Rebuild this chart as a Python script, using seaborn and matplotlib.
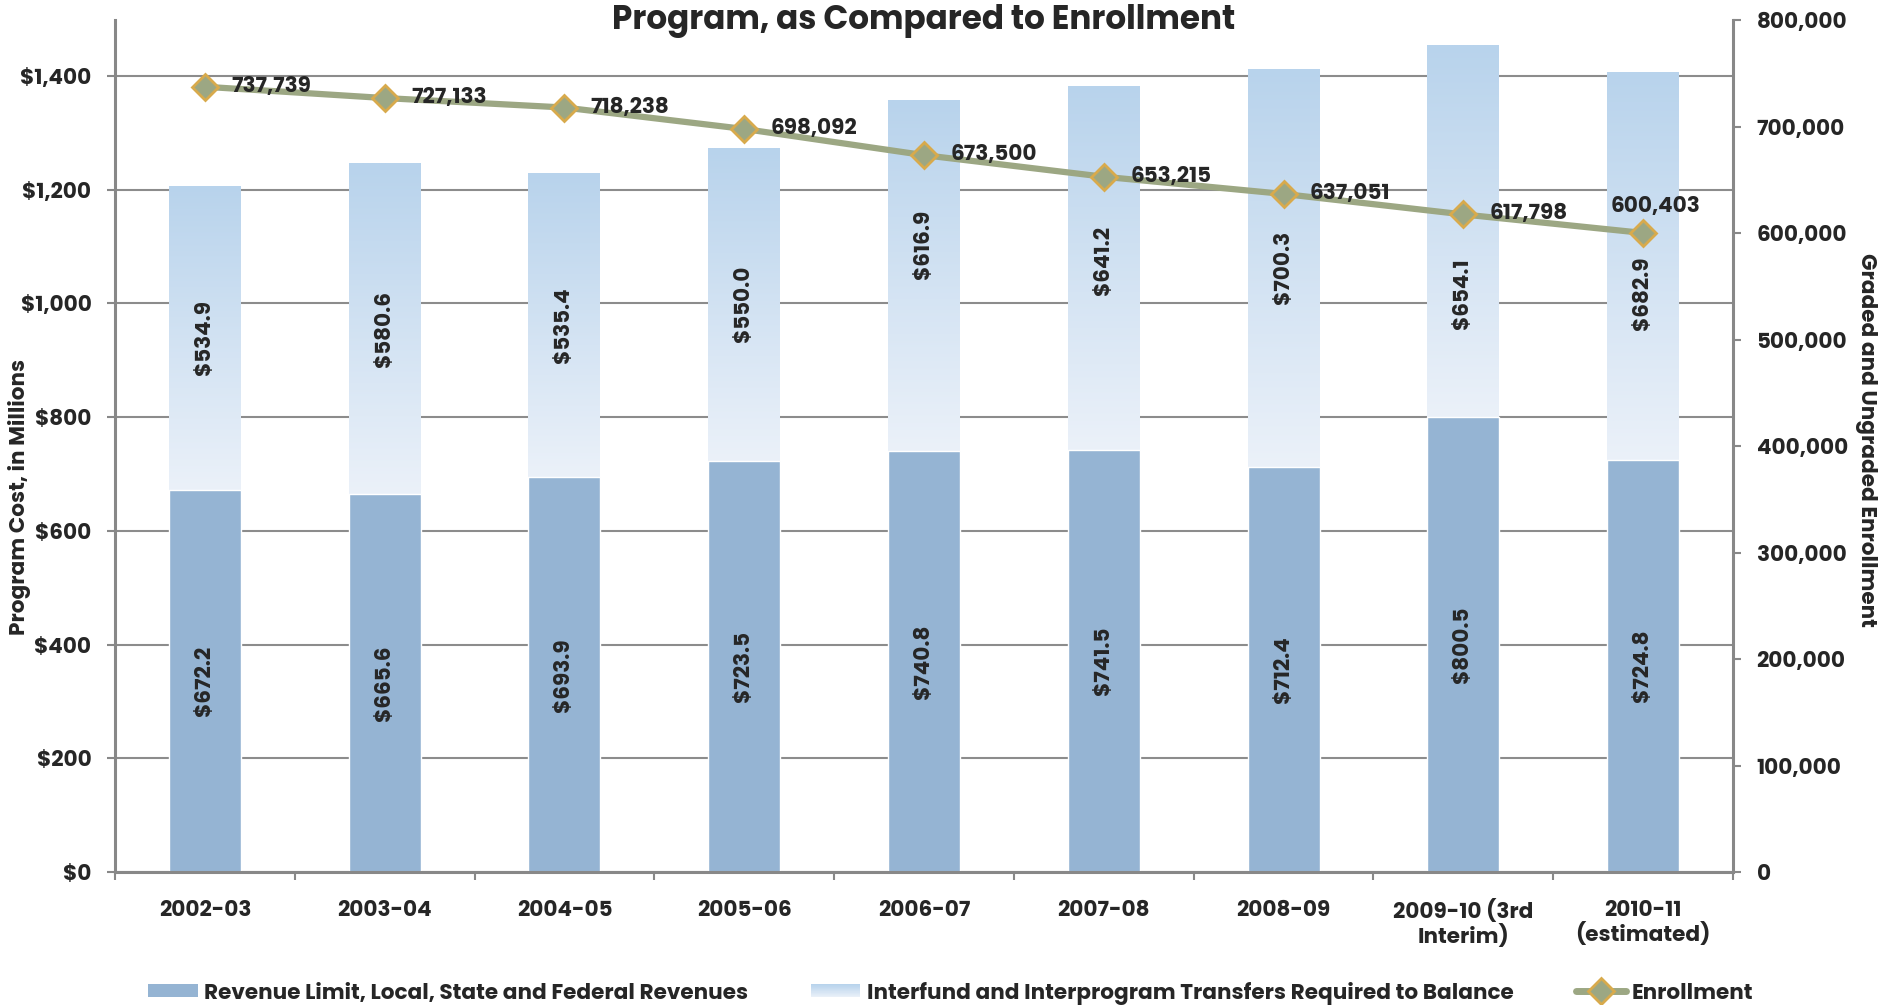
import numpy as np
import pandas as pd
import matplotlib
matplotlib.use("Agg")
import matplotlib.pyplot as plt
import seaborn as sns
from matplotlib.colors import LinearSegmentedColormap
from matplotlib.ticker import FuncFormatter, FixedLocator
from matplotlib.patches import Patch, Rectangle
from matplotlib.lines import Line2D
from matplotlib.legend_handler import HandlerBase

# School years, cost components ($ millions) and enrollment
years = ["2002-03", "2003-04", "2004-05", "2005-06", "2006-07", "2007-08",
         "2008-09", "2009-10 (3rd\nInterim)", "2010-11\n(estimated)"]
revenues = [672.2, 665.6, 693.9, 723.5, 740.8, 741.5, 712.4, 800.5, 724.8]
transfers = [534.9, 580.6, 535.4, 550.0, 616.9, 641.2, 700.3, 654.1, 682.9]
enrollment = [737739, 727133, 718238, 698092, 673500, 653215, 637051, 617798, 600403]

# Vertical nudges (axis units) keeping transfer labels clear of the enrollment line
transfer_label_nudge = [0, 0, 0, 0, 54, 13, 0, -111, -49]

sns.set_theme(style="white")
plt.rcParams["font.family"] = ["Poppins", "DejaVu Sans"]
WT = 700
plt.rcParams["font.weight"] = WT

BLUE = "#95b4d3"
GRAD_TOP = "#b8d3ec"
GRAD_BOTTOM = "#ebf1f9"
LINE = "#9ca783"
EDGE = "#d8aa4c"
GRAY = "#888888"
FS = 15.5

grad_cmap = LinearSegmentedColormap.from_list("transfers", [GRAD_BOTTOM, GRAD_TOP])

df = pd.DataFrame({"year": years, "revenues": revenues,
                   "transfers": transfers, "enrollment": enrollment})
df["total"] = df["revenues"] + df["transfers"]

W, H = 1894, 1005
fig = plt.figure(figsize=(W / 100, H / 100), dpi=100)
ax = fig.add_axes([115 / W, 1 - 872 / H, (1733 - 115) / W, (872 - 20.5) / H])

# Full-height bars hold the transfer segment (gradient filled), revenue bars on top
sns.barplot(data=df, x="year", y="total", color=GRAD_TOP, saturation=1,
            width=0.4, ax=ax, zorder=2)
top_patches = list(ax.patches)
sns.barplot(data=df, x="year", y="revenues", color=BLUE, saturation=1,
            width=0.4, ax=ax, zorder=3)

ymax = 1400 * 851.5 / 796
gradient = np.linspace(0, 1, 256).reshape(-1, 1)
for p, r, tot in zip(top_patches, df["revenues"], df["total"]):
    x0, w = p.get_x(), p.get_width()
    im = ax.imshow(gradient, cmap=grad_cmap, origin="lower", aspect="auto",
                   extent=(x0, x0 + w, r, tot), zorder=2, interpolation="bilinear")
    im.set_clip_path(p)
    p.set_facecolor("none")
    p.set_edgecolor("none")

ax.set_xlim(-0.5, len(years) - 0.5)
ax.set_ylim(0, ymax)
ax.set_xlabel("")
ax.set_ylabel("")

# Segment value labels
for i, (r, t) in enumerate(zip(revenues, transfers)):
    ax.text(i, r / 2, f"${r:.1f}", rotation=90, ha="center", va="center",
            fontsize=FS, fontweight=WT, zorder=5)
    ax.text(i, r + t / 2 + transfer_label_nudge[i], f"${t:.1f}", rotation=90,
            ha="center", va="center", fontsize=FS, fontweight=WT, zorder=5)

ax.set_yticks(range(0, 1401, 200))
ax.yaxis.set_major_formatter(FuncFormatter(lambda v, _: f"${v:,.0f}"))
ax.yaxis.grid(True, color="#8c8c8c", lw=1.5)
ax.set_axisbelow(True)
ax.tick_params(axis="y", direction="out", length=6, width=1.5, color=GRAY,
               pad=11, labelsize=FS, left=True)
ax.tick_params(axis="x", which="major", length=0, pad=20, labelsize=FS)
ax.xaxis.set_minor_locator(FixedLocator(np.arange(-0.5, len(years), 1)))
ax.tick_params(axis="x", which="minor", direction="out", length=6, width=1.5,
               color=GRAY, bottom=True)
for lab in ax.get_xticklabels():
    lab.set_fontweight(WT)
    lab.set_linespacing(1.05)
for lab in ax.get_yticklabels():
    lab.set_fontweight(WT)
for side in ["top", "right"]:
    ax.spines[side].set_visible(False)
for side in ["left", "bottom"]:
    ax.spines[side].set_color(GRAY)
    ax.spines[side].set_linewidth(2.2)
    ax.spines[side].set_zorder(4)

# Enrollment on the secondary axis
ax2 = ax.twinx()
sns.lineplot(x=np.arange(len(years)), y=enrollment, ax=ax2, color=LINE, lw=4.5,
             marker="D", markersize=13, markerfacecolor=LINE,
             markeredgecolor=EDGE, markeredgewidth=2, zorder=6)
ax2.set_xlim(-0.5, len(years) - 0.5)
ax2.set_ylim(0, 800000)
ax2.set_yticks(range(0, 800001, 100000))
ax2.yaxis.set_major_formatter(FuncFormatter(lambda v, _: f"{v:,.0f}"))
ax2.tick_params(axis="y", direction="out", length=6, width=1.5, color=GRAY,
                pad=11, labelsize=FS, right=True)
for lab in ax2.get_yticklabels():
    lab.set_fontweight(WT)
for side in ["top", "left", "bottom"]:
    ax2.spines[side].set_visible(False)
ax2.spines["right"].set_color(GRAY)
ax2.spines["right"].set_linewidth(2.2)
ax2.set_ylabel("")

for i, v in enumerate(enrollment):
    if i == len(enrollment) - 1:
        ax2.annotate(f"{v:,}", (i, v), xytext=(9, 15), textcoords="offset points",
                     ha="center", va="baseline", fontsize=FS, fontweight=WT,
                     zorder=7)
    else:
        ax2.annotate(f"{v:,}", (i, v), xytext=(19, 0), textcoords="offset points",
                     ha="left", va="center", fontsize=FS, fontweight=WT,
                     zorder=7)

fig.text(924 / W, 1 - 21 / H, "Program, as Compared to Enrollment",
         ha="center", va="center", fontsize=23.5, fontweight=WT)
fig.text(20 / W, 1 - 497 / H, "Program Cost, in Millions", rotation=90,
         ha="center", va="center", fontsize=FS, fontweight=WT)
fig.text(1866 / W, 1 - 440 / H, "Graded and Ungraded Enrollment", rotation=270,
         ha="center", va="center", fontsize=FS, fontweight=WT)


class GradientHandler(HandlerBase):
    def create_artists(self, legend, orig_handle, xdescent, ydescent, width,
                       height, fontsize, trans):
        n = 24
        arts = []
        for k in range(n):
            arts.append(Rectangle((-xdescent, -ydescent + height * k / n), width,
                                  height / n * 1.05, transform=trans,
                                  facecolor=grad_cmap(k / (n - 1)),
                                  edgecolor="none", lw=0))
        return arts


h_rev = Patch(facecolor=BLUE, edgecolor="none")
h_tr = Patch(facecolor=GRAD_TOP, edgecolor="none")
h_en = Line2D([], [], color=LINE, lw=5, marker="D", markersize=13,
              markerfacecolor=LINE, markeredgecolor=EDGE, markeredgewidth=2)
fig.legend([h_rev, h_tr, h_en],
           ["Revenue Limit, Local, State and Federal Revenues",
            "Interfund and Interprogram Transfers Required to Balance",
            "Enrollment"],
           handler_map={h_tr: GradientHandler()},
           loc="center", bbox_to_anchor=(951 / W, 1 - 993 / H), ncol=3,
           frameon=False, prop={"size": FS, "weight": WT},
           handlelength=2.3, handleheight=0.55, handletextpad=0.3,
           columnspacing=2.9)

fig.savefig("out.png", dpi=100)
